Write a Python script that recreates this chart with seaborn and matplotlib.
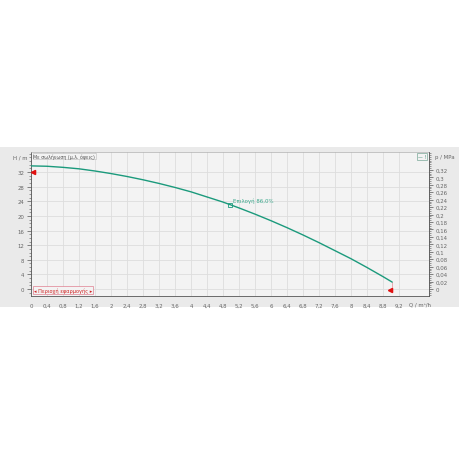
import matplotlib
matplotlib.use("Agg")
import matplotlib.pyplot as plt
import matplotlib.patches as mpatches
from matplotlib.ticker import MultipleLocator, FixedLocator
import seaborn as sns
import pandas as pd

sns.set_style("white")
plt.rcParams['font.family'] = ['DejaVu Sans']

# Pump curve data (Q in m³/h, H in m)
flow_q = [0, 0.4, 0.8, 1.2, 1.6, 2.0, 2.4, 2.8, 3.2, 3.6, 4.0, 4.4, 4.8, 5.2,
          5.6, 6.0, 6.4, 6.8, 7.2, 7.6, 8.0, 8.4, 8.8, 9.03]
head_h = [33.7, 33.6, 33.3, 32.9, 32.3, 31.6, 30.8, 29.9, 28.9, 27.8, 26.6,
          25.2, 23.8, 22.2, 20.5, 18.7, 16.8, 14.8, 12.7, 10.5, 8.3, 5.9, 3.4, 1.9]
duty_q = [4.98]
duty_h = [23.0]
duty_label = "Επιλογή 86,0%"
limit_q = [0.05, 8.98]
limit_h = [32.0, -0.3]

x_ticks = [0, 0.4, 0.8, 1.2, 1.6, 2, 2.4, 2.8, 3.2, 3.6, 4, 4.4, 4.8, 5.2, 5.6,
           6, 6.4, 6.8, 7.2, 7.6, 8, 8.4, 8.8, 9.2]
h_ticks = [0, 4, 8, 12, 16, 20, 24, 28, 32]
p_ticks = [0, 0.02, 0.04, 0.06, 0.08, 0.1, 0.12, 0.14, 0.16, 0.18, 0.2, 0.22,
           0.24, 0.26, 0.28, 0.3, 0.32]

green = "#1b9a7c"
tick_col = "#666666"
fs = 3.9

def fmt(v):
    s = ("%g" % v)
    return s.replace(".", ",")

fig = plt.figure(figsize=(4.6, 4.6), dpi=100)
fig.patch.set_facecolor("white")
band = mpatches.Rectangle((0, 1 - 308 / 460), 1, 160 / 460, transform=fig.transFigure,
                          facecolor="#eaeaea", edgecolor="none", zorder=-5)
fig.patches.append(band)

ax = fig.add_axes([31 / 460, 1 - 297 / 460, 398 / 460, 144 / 460])
ax.set_zorder(1)
ax.set_facecolor("#f3f3f3")

df = pd.DataFrame({"Q": flow_q, "H": head_h})
sns.lineplot(data=df, x="Q", y="H", ax=ax, color=green, linewidth=1.0, zorder=5)

ax.set_xlim(0, 9.95)
ax.set_ylim(-1.9, 37.5)

ax.xaxis.set_major_locator(FixedLocator(x_ticks))
ax.xaxis.set_minor_locator(MultipleLocator(0.1))
ax.yaxis.set_major_locator(FixedLocator(h_ticks))
ax.yaxis.set_minor_locator(MultipleLocator(1))
ax.set_xticklabels([fmt(v) for v in x_ticks])
ax.set_yticklabels([fmt(v) for v in h_ticks])
ax.grid(True, which="major", color="#dddddd", linewidth=0.6)
ax.set_axisbelow(True)
ax.tick_params(which="major", direction="out", length=3, width=0.5, colors="#555555",
               labelsize=fs, labelcolor=tick_col, pad=2)
ax.tick_params(which="minor", direction="out", length=1.5, width=0.4, colors="#555555")
ax.set_xlabel("")
ax.set_ylabel("")
for s in ["left", "bottom"]:
    ax.spines[s].set_color("#555555")
    ax.spines[s].set_linewidth(0.6)
for s in ["top", "right"]:
    ax.spines[s].set_color("#b0b0b0")
    ax.spines[s].set_linewidth(0.5)

# Right axis: pressure
ax2 = ax.twinx()
ax2.set_ylim(-1.9 * 0.00981, 37.5 * 0.00981)
ax2.yaxis.set_major_locator(FixedLocator(p_ticks))
ax2.yaxis.set_minor_locator(MultipleLocator(0.005))
ax2.set_yticklabels([fmt(v) for v in p_ticks])
ax2.tick_params(which="major", direction="out", length=3, width=0.5, colors="#555555",
                labelsize=fs, labelcolor=tick_col, pad=2)
ax2.tick_params(which="minor", direction="out", length=1.5, width=0.4, colors="#555555")
ax2.spines["right"].set_color("#555555")
ax2.spines["right"].set_linewidth(0.6)
for s in ["top", "left", "bottom"]:
    ax2.spines[s].set_visible(False)

# Duty point
ax.plot(duty_q, duty_h, marker="s", markersize=2.5, markerfacecolor="none",
        markeredgecolor=green, markeredgewidth=0.6, linestyle="none", zorder=6)
ax.text(duty_q[0] + 0.08, duty_h[0] + 0.8, duty_label, fontsize=fs, color="#3aa88c", zorder=7)

# Limit markers
ax.plot([flow_q[-1], flow_q[-1]], [head_h[-1], limit_h[1]], color="#e8a0a8",
        linewidth=0.6, zorder=4)
ax.plot([limit_q[0]], [limit_h[0]], marker="<", markersize=3, color="#e01010",
        linestyle="none", zorder=7, clip_on=False)
ax.plot([limit_q[1]], [limit_h[1]], marker="<", markersize=3, color="#e01010",
        linestyle="none", zorder=7, clip_on=False)

# Axis titles
fig.text(20 / 460, 1 - 158 / 460, "H / m", fontsize=fs, color=tick_col, ha="center", va="center")
fig.text(445 / 460, 1 - 158 / 460, "p / MPa", fontsize=fs, color=tick_col, ha="center", va="center")
ax.text(9.72, -0.035, "Q / m³/h", transform=ax.get_xaxis_transform(), fontsize=fs,
        color=tick_col, ha="center", va="top")

# Top-left label box
ax.text(0.06, 36.4, "Με σωλήνωση (μ.λ. όψεις)", fontsize=3.4, color="#555555",
        va="center", ha="left", zorder=8,
        bbox=dict(boxstyle="square,pad=0.15", facecolor="#f3f3f3", edgecolor="#bbbbbb",
                  linewidth=0.4))

# Bottom-left red box
ax.text(0.08, -0.3, "◂ Περιοχή εφαρμογής ▸", fontsize=3.6, color="#d02020",
        va="center", ha="left", zorder=8,
        bbox=dict(boxstyle="square,pad=0.2", facecolor="#f3f3f3", edgecolor="#e08090",
                  linewidth=0.5))

# Top-right small box
ax.text(9.88, 36.2, "— !", fontsize=3.4, color="#3a8a70", va="center", ha="right", zorder=8,
        bbox=dict(boxstyle="square,pad=0.2", facecolor="#f3f3f3", edgecolor="#7aa898",
                  linewidth=0.5))

fig.savefig("out.png", dpi=100, facecolor=fig.get_facecolor())
